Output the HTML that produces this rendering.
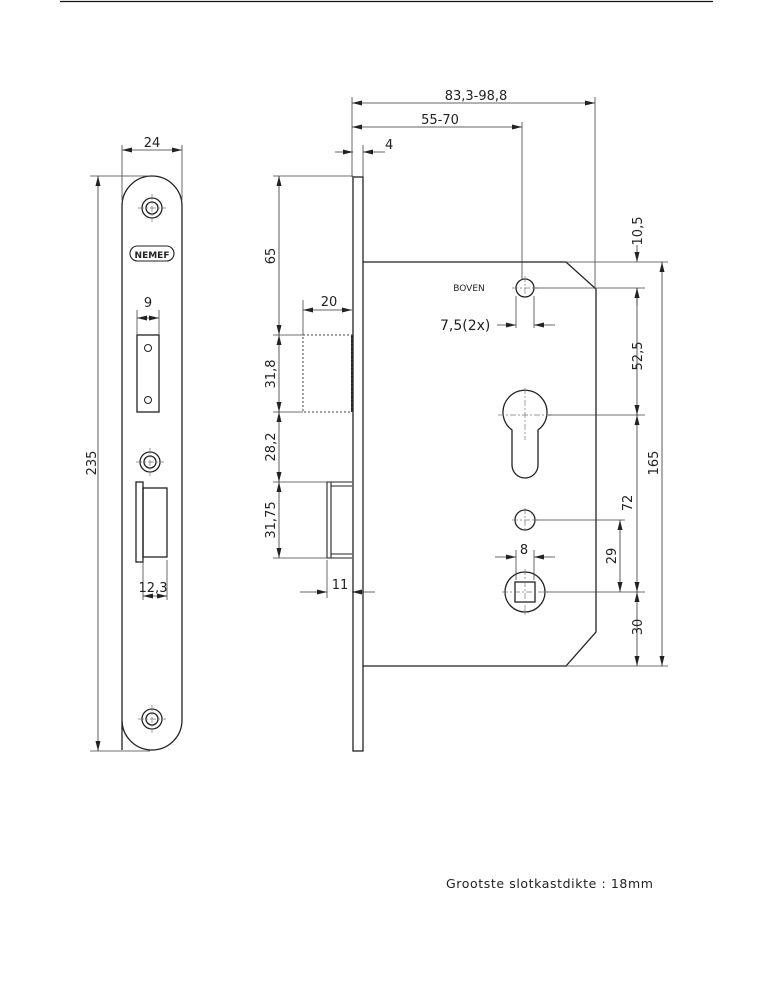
<!DOCTYPE html>
<html><head><meta charset="utf-8"><style>
html,body{margin:0;padding:0;background:#fff}
svg{display:block}
text{font-family:"DejaVu Sans","Liberation Sans",sans-serif;fill:#222}
</style></head><body>
<svg width="773" height="1000" viewBox="0 0 773 1000" xmlns="http://www.w3.org/2000/svg">
<defs>
<marker id="a" viewBox="0 0 10 6" refX="10" refY="3" markerWidth="10" markerHeight="6" orient="auto-start-reverse" markerUnits="userSpaceOnUse"><path d="M0,0.5 L10,3 L0,5.5z" fill="#222"/></marker>
</defs>
<line x1="60" y1="1.5" x2="713" y2="1.5" stroke="#111" stroke-width="1.2"/>

<g fill="none" stroke="#222" stroke-width="1.3">
<path d="M122,750 V206 A30,30 0 0 1 182,206 V720 A30,30 0 0 1 122,720 Z"/>
<circle cx="152" cy="208" r="10"/><circle cx="152" cy="208" r="6"/>
<circle cx="152" cy="719" r="10"/><circle cx="152" cy="719" r="6"/>
<circle cx="150" cy="462" r="10"/><circle cx="150" cy="462" r="6"/>
<rect x="130" y="246" width="44" height="15" rx="7.5" stroke-width="1.1"/>
<rect x="137" y="335" width="22" height="77"/>
<circle cx="148" cy="348" r="3.5" stroke-width="1"/><circle cx="148" cy="400" r="3.5" stroke-width="1"/>
<rect x="136" y="482" width="7" height="80"/>
<rect x="143" y="488" width="24" height="69"/>
<rect x="353" y="177" width="10" height="574"/>
<path d="M363,262 H566 L596,289 V632 L566,666 H363"/>
<path d="M352,482 H327 V558 H352 M331,486 H352 M331,554 H352 M331,482 V558" stroke-width="1.1"/>
<line x1="352" y1="335" x2="352" y2="412" stroke-width="2"/>
<circle cx="525" cy="288" r="9"/>
<path d="M512,430 A22,22 0 1 1 538,430 V465 A13,13 0 0 1 512,465 Z"/>
<circle cx="525" cy="520" r="10"/>
<circle cx="525" cy="592" r="20"/>
<rect x="515" y="582" width="20" height="20"/>
</g>
<rect x="303" y="335" width="49" height="77" fill="none" stroke="#444" stroke-width="1" stroke-dasharray="2,2"/>

<g stroke="#777" stroke-width="0.7" stroke-dasharray="6,2,2,2" fill="none">
<path d="M152,194 V222 M138,208 H166 M152,705 V733 M138,719 H166 M150,448 V476 M136,462 H164"/>
<path d="M525,276 V300 M512,288 H538 M525,388 V440 M498,415 H552 M525,508 V532 M512,520 H538 M525,569 V615 M502,592 H548"/>
</g>

<g stroke="#444" stroke-width="0.8" fill="none">
<path d="M122,145 V200 M182,145 V200"/>
<path d="M90,176 H150 M90,751 H150"/>
<path d="M137,310 V335 M159,310 V335"/>
<path d="M143,560 V600 M167,560 V600"/>
<path d="M352,97 V177 M595,97 V289 M522,122 V280 M363,145 V177"/>
<path d="M273,176 H353 M273,335 H303 M273,412 H303 M273,482 H327 M273,558 H327"/>
<path d="M303,300 V335 M327,560 V598"/>
<path d="M516,296 V328 M534,296 V328"/>
<path d="M516,550 V580 M534,550 V580"/>
<path d="M566,262 H668 M535,288 H645 M548,415 H645 M536,520 H625 M546,592 H645 M566,666 H668"/>
</g>
<g stroke="#333" stroke-width="0.8" fill="none" marker-start="url(#a)" marker-end="url(#a)">
<line x1="122" y1="150" x2="182" y2="150"/>
<line x1="98" y1="176" x2="98" y2="751"/>
<line x1="137" y1="318" x2="159" y2="318"/>
<line x1="143" y1="596" x2="167" y2="596"/>
<line x1="352" y1="103" x2="595" y2="103"/>
<line x1="352" y1="127" x2="522" y2="127"/>
<line x1="279" y1="176" x2="279" y2="335"/>
<line x1="279" y1="335" x2="279" y2="412"/>
<line x1="279" y1="412" x2="279" y2="482"/>
<line x1="279" y1="482" x2="279" y2="558"/>
<line x1="303" y1="310" x2="352" y2="310"/>
<line x1="637" y1="288" x2="637" y2="415"/>
<line x1="637" y1="415" x2="637" y2="592"/>
<line x1="637" y1="592" x2="637" y2="666"/>
<line x1="662" y1="262" x2="662" y2="666"/>
<line x1="620" y1="520" x2="620" y2="592"/>
</g>
<g stroke="#333" stroke-width="0.8" fill="none" marker-end="url(#a)">
<line x1="335" y1="152" x2="353" y2="152"/>
<line x1="385" y1="152" x2="363" y2="152"/>
<line x1="300" y1="592" x2="327" y2="592"/>
<line x1="375" y1="592" x2="352" y2="592"/>
<line x1="497" y1="325" x2="516" y2="325"/>
<line x1="555" y1="325" x2="534" y2="325"/>
<line x1="495" y1="557" x2="516" y2="557"/>
<line x1="555" y1="557" x2="534" y2="557"/>
<line x1="637" y1="245" x2="637" y2="262"/>
<line x1="637" y1="305" x2="637" y2="288"/>
</g>

<g font-size="13">
<text x="152" y="147" text-anchor="middle">24</text>
<text x="148" y="307" text-anchor="middle">9</text>
<text x="153" y="592" text-anchor="middle">12,3</text>
<text x="476" y="100" text-anchor="middle">83,3-98,8</text>
<text x="440" y="124" text-anchor="middle">55-70</text>
<text x="385" y="149">4</text>
<text x="329" y="306" text-anchor="middle">20</text>
<text x="340" y="589" text-anchor="middle">11</text>
<text x="524" y="554" text-anchor="middle">8</text>
<text x="440" y="330" font-size="14">7,5(2x)</text>
<text transform="translate(96,463) rotate(-90)" text-anchor="middle">235</text>
<text transform="translate(275,256) rotate(-90)" text-anchor="middle">65</text>
<text transform="translate(275,374) rotate(-90)" text-anchor="middle">31,8</text>
<text transform="translate(275,447) rotate(-90)" text-anchor="middle">28,2</text>
<text transform="translate(275,520) rotate(-90)" text-anchor="middle">31,75</text>
<text transform="translate(642,231) rotate(-90)" text-anchor="middle">10,5</text>
<text transform="translate(642,356) rotate(-90)" text-anchor="middle">52,5</text>
<text transform="translate(632,503) rotate(-90)" text-anchor="middle">72</text>
<text transform="translate(616,556) rotate(-90)" text-anchor="middle">29</text>
<text transform="translate(642,627) rotate(-90)" text-anchor="middle">30</text>
<text transform="translate(658,463) rotate(-90)" text-anchor="middle">165</text>
</g>
<text x="152" y="258" font-size="9" text-anchor="middle" font-weight="bold">NEMEF</text>
<text x="469" y="291" font-size="9" text-anchor="middle" fill="#555">BOVEN</text>
<text x="446" y="888" font-size="12.5" letter-spacing="0.6">Grootste slotkastdikte : 18mm</text>
</svg>
</body></html>
